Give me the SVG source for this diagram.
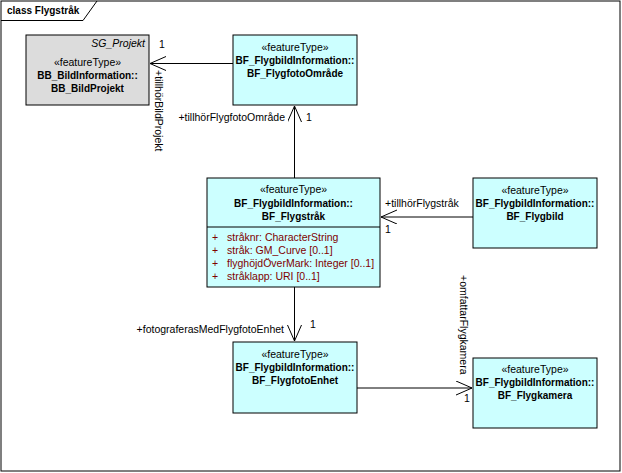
<svg xmlns="http://www.w3.org/2000/svg" width="622" height="473" viewBox="0 0 622 473">
<style>
text{font-family:"Liberation Sans",Arial,sans-serif;font-size:10.5px;fill:#000}
.b{font-weight:bold;font-size:10px}
.c{text-anchor:middle}
.cls{fill:#CCFFFF;stroke:#000;stroke-width:1}
.ext{fill:#DCDCDC;stroke:#000;stroke-width:1}
.ln{fill:none;stroke:#000;stroke-width:1}
.attr{fill:#800000}
</style>
<defs>
<marker id="open" markerUnits="userSpaceOnUse" markerWidth="20" markerHeight="16" refX="16" refY="7" orient="auto">
<path d="M0,0 L16,7 L0,14" fill="none" stroke="#000" stroke-width="1"/>
</marker>
</defs>
<rect x="0" y="0" width="622" height="473" fill="#fff"/>
<g id="frame">
<rect x="1" y="1" width="619" height="470" fill="none" stroke="#000" stroke-width="1"/>
<path d="M1,20.5 H83 L97,1" fill="none" stroke="#000" stroke-width="1"/>
<text x="7" y="14" class="b">class Flygstråk</text>
</g>
<g id="connectors">
<line class="ln" x1="233" y1="63.5" x2="150" y2="63.5" marker-end="url(#open)"/>
<text x="159" y="48">1</text>
<text transform="translate(155,70) rotate(90)">+tillhörBildProjekt</text>
<line class="ln" x1="294.5" y1="178" x2="294.5" y2="106" marker-end="url(#open)"/>
<text x="285" y="121" text-anchor="end">+tillhörFlygfotoOmråde</text>
<text x="306" y="121">1</text>
<line class="ln" x1="473" y1="217" x2="381" y2="217" marker-end="url(#open)"/>
<text x="385" y="207">+tillhörFlygstråk</text>
<text x="385" y="233">1</text>
<line class="ln" x1="294.5" y1="287" x2="294.5" y2="341" marker-end="url(#open)"/>
<text x="284" y="333" text-anchor="end">+fotograferasMedFlygfotoEnhet</text>
<text x="310" y="328">1</text>
<line class="ln" x1="357" y1="388" x2="472" y2="388" marker-end="url(#open)"/>
<text transform="translate(460,275) rotate(90)">+omfattarFlygkamera</text>
<text x="464" y="402">1</text>
</g>
<g id="BB_BildProjekt">
<rect class="ext" x="26" y="35" width="123" height="70"/>
<text x="145" y="47" text-anchor="end" font-style="italic">SG_Projekt</text>
<text x="87.5" y="66" class="c">«featureType»</text>
<text x="87.5" y="79" class="b c">BB_BildInformation::</text>
<text x="87.5" y="92" class="b c">BB_BildProjekt</text>
</g>
<g id="BF_FlygfotoOmrade">
<rect class="cls" x="233" y="35" width="124" height="70"/>
<text x="295" y="51" class="c">«featureType»</text>
<text x="295" y="64" class="b c">BF_FlygbildInformation::</text>
<text x="295" y="77" class="b c">BF_FlygfotoOmråde</text>
</g>
<g id="BF_Flygstrak">
<rect class="cls" x="207" y="178" width="173" height="109"/>
<line class="ln" x1="207" y1="227" x2="380" y2="227"/>
<text x="293.5" y="193" class="c">«featureType»</text>
<text x="293.5" y="206.5" class="b c">BF_FlygbildInformation::</text>
<text x="293.5" y="219.5" class="b c">BF_Flygstråk</text>
<text x="212" y="240.5" class="attr">+</text>
<text x="227" y="240.5" class="attr">stråknr: CharacterString</text>
<text x="212" y="253.5" class="attr">+</text>
<text x="227" y="253.5" class="attr">stråk: GM_Curve [0..1]</text>
<text x="212" y="266.5" class="attr">+</text>
<text x="227" y="266.5" class="attr">flyghöjdÖverMark: Integer [0..1]</text>
<text x="212" y="279.5" class="attr">+</text>
<text x="227" y="279.5" class="attr">stråklapp: URI [0..1]</text>
</g>
<g id="BF_Flygbild">
<rect class="cls" x="473" y="178" width="124" height="70"/>
<text x="535" y="194" class="c">«featureType»</text>
<text x="535" y="207" class="b c">BF_FlygbildInformation::</text>
<text x="535" y="220" class="b c">BF_Flygbild</text>
</g>
<g id="BF_FlygfotoEnhet">
<rect class="cls" x="233" y="342" width="124" height="71"/>
<text x="295" y="357.5" class="c">«featureType»</text>
<text x="295" y="370.5" class="b c">BF_FlygbildInformation::</text>
<text x="295" y="383.5" class="b c">BF_FlygfotoEnhet</text>
</g>
<g id="BF_Flygkamera">
<rect class="cls" x="473" y="358" width="124" height="70"/>
<text x="535" y="373" class="c">«featureType»</text>
<text x="535" y="386" class="b c">BF_FlygbildInformation::</text>
<text x="535" y="399" class="b c">BF_Flygkamera</text>
</g>
</svg>
